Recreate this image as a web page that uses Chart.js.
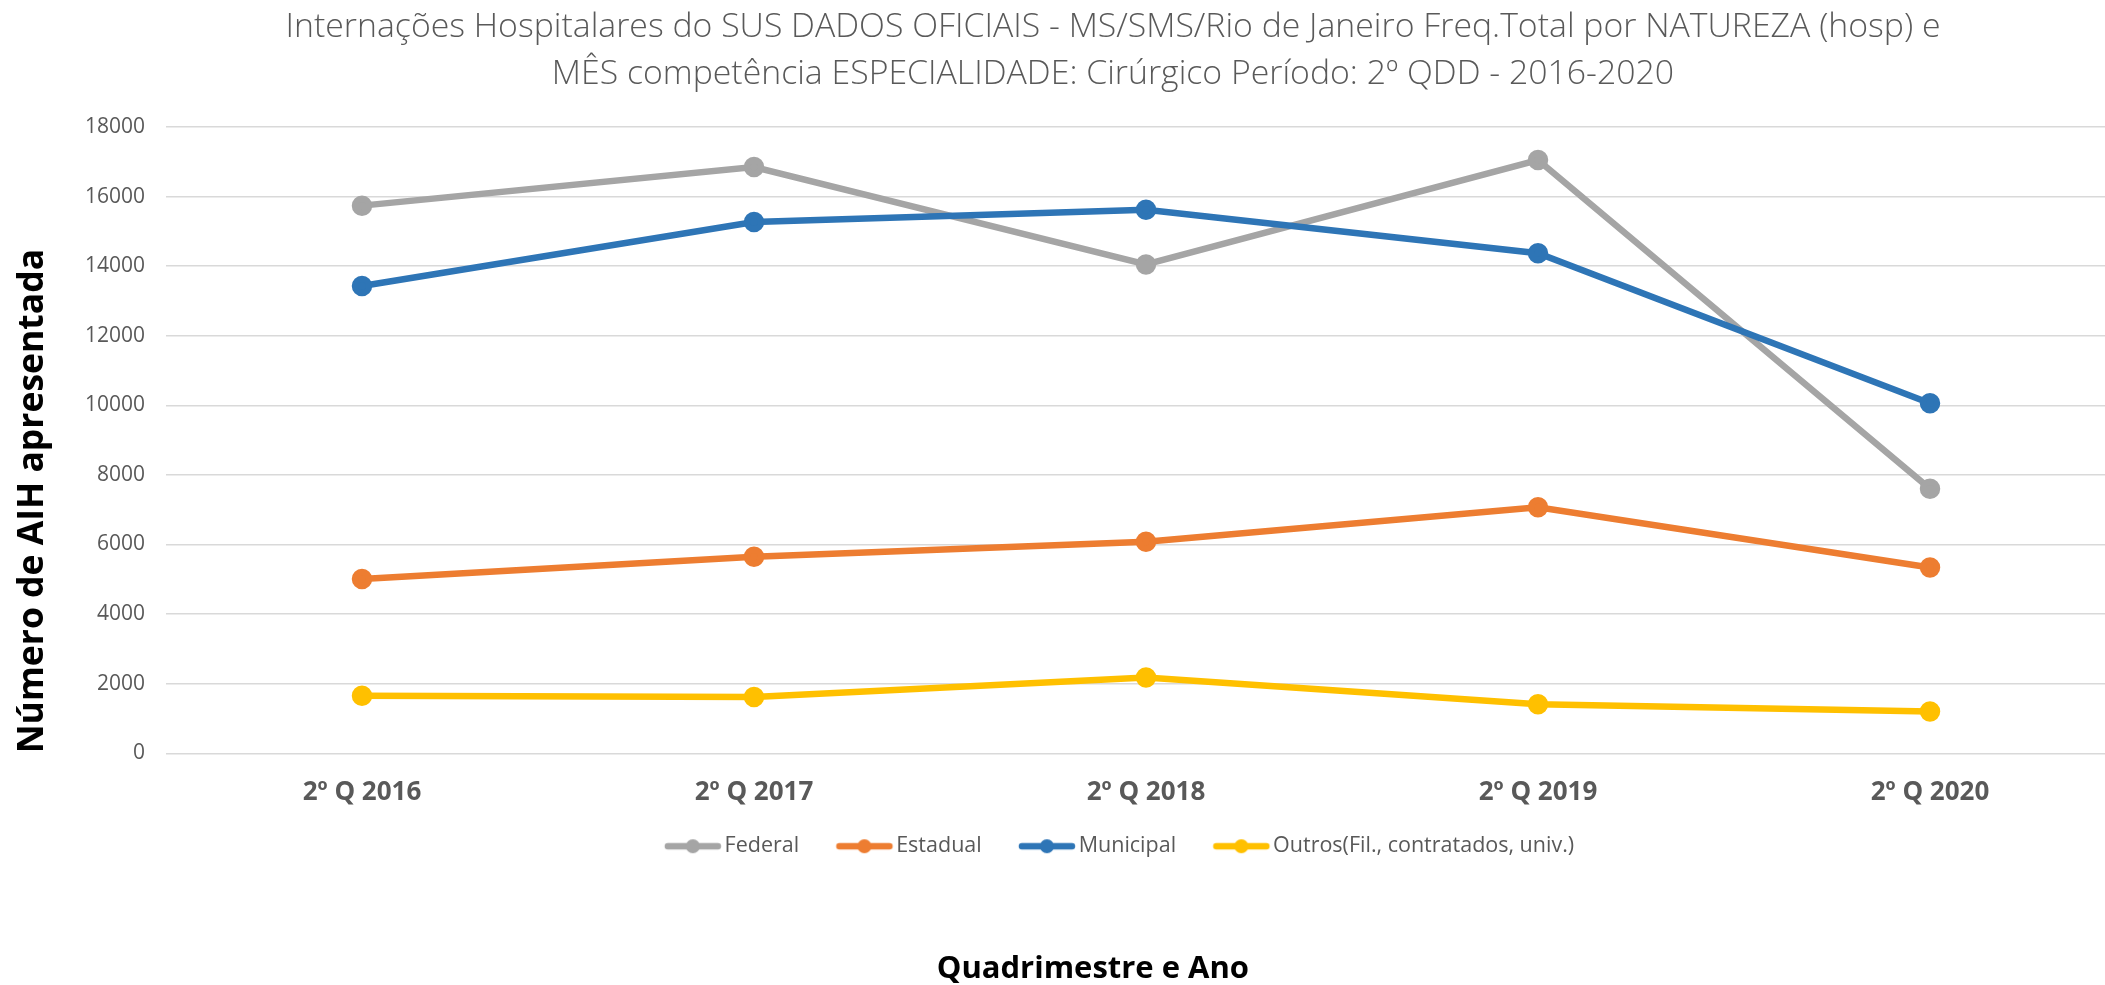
<!DOCTYPE html>
<html>
<head>
<meta charset="utf-8">
<script src="https://cdn.jsdelivr.net/npm/chart.js@4/dist/chart.umd.min.js"></script>
<style>
  html, body { margin: 0; padding: 0; background: #fff; overflow: hidden; }
  #wrap { width: 2226px; height: 985px; }
</style>
</head>
<body>
<div id="wrap"><canvas id="grafico"></canvas></div>
<script>
// categorias (quadrimestres)
var quadrimestres = ["2º Q 2016", "2º Q 2017", "2º Q 2018", "2º Q 2019", "2º Q 2020"];

// valores por natureza
var federal   = [15740, 16850, 14050, 17050, 7600];
var estadual  = [5010, 5650, 6080, 7070, 5340];
var municipal = [13430, 15270, 15620, 14370, 10060];
var outros    = [1650, 1620, 2180, 1410, 1200];

var nomes = ["Federal", "Estadual", "Municipal", "Outros(Fil., contratados, univ.)"];
var cores = ["#A5A5A5", "#ED7D31", "#2E75B6", "#FFC000"];

// eixo y
var yMin = 0, yMax = 18000, yPasso = 2000;

var fonte = "'Open Sans', sans-serif";
var cinza = "#595959";

// marcador da legenda: linha com bolinha (como no Excel)
// o desenho fica encostado a direita, o resto da imagem e transparente
function marcador(cor) {
  var c = document.createElement("canvas");
  c.width = 84; c.height = 16;
  var g = c.getContext("2d");
  var fim = c.width - 3, ini = fim - 58;
  g.strokeStyle = cor;
  g.lineWidth = 6.5;
  g.lineCap = "round";
  g.beginPath(); g.moveTo(ini + 4, 8); g.lineTo(fim - 4, 8); g.stroke();
  g.fillStyle = cor;
  g.beginPath(); g.arc((ini + fim) / 2, 8, 7, 0, Math.PI * 2); g.fill();
  return c;
}

var series = [federal, estadual, municipal, outros];
var datasets = series.map(function (valores, i) {
  return {
    label: nomes[i],
    data: valores,
    borderColor: cores[i],
    backgroundColor: cores[i],
    pointBackgroundColor: cores[i],
    pointBorderColor: cores[i],
    borderWidth: 6.5,
    pointRadius: 7,
    pointHoverRadius: 7,
    tension: 0,
    // o Excel desenha a ultima serie por cima
    order: series.length - i
  };
});

var ctx = document.getElementById("grafico");

new Chart(ctx, {
  type: "line",
  data: {
    labels: quadrimestres,
    datasets: datasets
  },
  options: {
    responsive: true,
    maintainAspectRatio: false,
    animation: false,
    layout: { padding: 0 },
    plugins: {
      title: {
        display: true,
        text: [
          "Internações Hospitalares do SUS DADOS OFICIAIS - MS/SMS/Rio de Janeiro Freq.Total por NATUREZA (hosp) e",
          "MÊS competência ESPECIALIDADE: Cirúrgico Período: 2º QDD - 2016-2020"
        ],
        color: cinza,
        font: { family: fonte, size: 33.8, weight: 300, lineHeight: "47px" },
        padding: { top: 4, bottom: 29 }
      },
      subtitle: {
        display: true,
        position: "bottom",
        // espacos no fim empurram o titulo um pouco para a esquerda, como no original
        text: "Quadrimestre e Ano     ",
        color: "#000",
        font: { family: fonte, size: 31, weight: "bold", lineHeight: 1 },
        padding: { top: 87, bottom: 0 }
      },
      legend: {
        position: "bottom",
        labels: {
          color: cinza,
          font: { family: fonte, size: 21.5 },
          usePointStyle: true,
          pointStyleWidth: 62,
          padding: 24.25,
          generateLabels: function (chart) {
            return chart.data.datasets.map(function (ds, i) {
              return {
                text: ds.label,
                pointStyle: marcador(ds.borderColor),
                fillStyle: ds.borderColor,
                strokeStyle: ds.borderColor,
                lineWidth: 0,
                fontColor: cinza,
                datasetIndex: i,
                hidden: false
              };
            });
          }
        }
      },
      tooltip: { enabled: false }
    },
    scales: {
      x: {
        offset: true,
        afterFit: function (scale) { scale.height = 58; },
        grid: { display: false, drawTicks: false },
        border: { display: false },
        ticks: {
          color: cinza,
          padding: 23.75,
          font: { family: fonte, size: 26, weight: "bold", lineHeight: "30.5px" }
        }
      },
      y: {
        min: yMin,
        max: yMax,
        afterFit: function (scale) { scale.width = 166; },
        grid: { color: "#D9D9D9", lineWidth: 1.5, drawTicks: false },
        border: { display: false },
        ticks: {
          stepSize: yPasso,
          color: cinza,
          padding: 21,
          font: { family: fonte, size: 21 },
          callback: function (v) { return String(v); }
        },
        title: {
          display: true,
          text: "Número de AIH apresentada",
          align: "start",
          color: "#000",
          font: { family: fonte, size: 35.5, weight: "bold", lineHeight: 1.2 },
          padding: { top: 12, bottom: 0 }
        }
      },
      // eixo vazio a direita so para deixar a margem do grafico original
      margem: {
        type: "linear",
        position: "right",
        afterFit: function (scale) { scale.width = 100; },
        grid: { display: false, drawTicks: false },
        border: { display: false },
        ticks: { display: false }
      }
    }
  }
});
</script>
</body>
</html>
